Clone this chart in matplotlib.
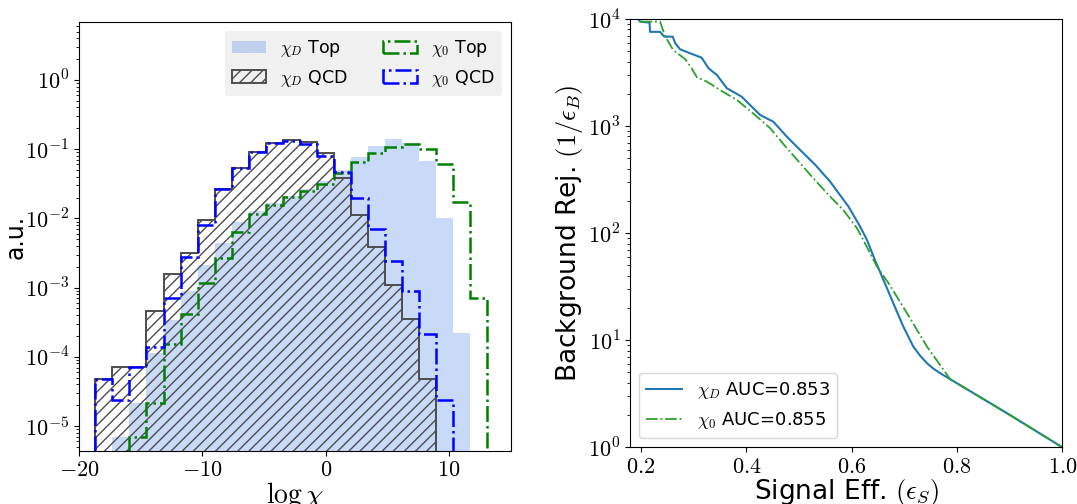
import numpy as np
import matplotlib
matplotlib.use("Agg")
import matplotlib.pyplot as plt
from matplotlib.ticker import FuncFormatter, FixedLocator

plt.rcParams['mathtext.fontset'] = 'cm'
plt.rcParams['font.family'] = ['DejaVu Sans']

# histogram binning (log chi)
edges = np.linspace(-18.68, 13.11, 24)

# bin contents (0 = empty bin)
top_chiD = [0, 7.0e-6, 2.13e-5, 1.12e-4, 3.40e-4, 9.0e-4, 2.12e-3, 4.46e-3, 8.96e-3, 0.0128,
            0.0167, 0.0211, 0.0266, 0.0347, 0.050, 0.0764, 0.1124, 0.1404, 0.1217, 0.0675,
            0.0102, 2.19e-4, 0]
qcd_chiD = [4.73e-5, 7.19e-5, 7.19e-5, 4.63e-4, 1.57e-3, 3.13e-3, 9.48e-3, 2.63e-2, 5.41e-2, 9.2e-2,
            0.1217, 0.1358, 0.1283, 0.0890, 0.0387, 0.0112, 3.90e-3, 1.09e-3, 3.52e-4, 4.73e-5,
            0, 0, 0]
top_chi0 = [0, 0, 7.0e-6, 2.13e-5, 1.53e-4, 4.15e-4, 1.18e-3, 2.65e-3, 6.43e-3, 0.0116,
            0.0156, 0.0206, 0.0249, 0.0317, 0.0449, 0.0647, 0.0872, 0.1087, 0.1177, 0.0997,
            0.0605, 0.0174, 7.0e-4]
qcd_chi0 = [4.73e-5, 2.38e-5, 7.19e-5, 1.40e-4, 7.0e-4, 2.74e-3, 8.03e-3, 2.63e-2, 5.41e-2, 9.2e-2,
            0.1217, 0.1327, 0.1177, 0.0805, 0.0464, 0.0199, 7.03e-3, 2.45e-3, 9.0e-4, 2.11e-4,
            2.38e-5, 0, 0]

# ROC curves (signal eff, log10 background rejection)
eff_D = [0.195, 0.198, 0.216, 0.217, 0.236, 0.244, 0.260, 0.265, 0.274, 0.293, 0.315, 0.328,
         0.344, 0.363, 0.391, 0.426, 0.451, 0.477, 0.502, 0.531, 0.559, 0.594, 0.616, 0.629,
         0.644, 0.663, 0.679, 0.698, 0.717, 0.730, 0.743, 0.755, 0.768, 0.787, 0.895, 1.0]
lrej_D = [4.0, 3.975, 3.966, 3.88, 3.88, 3.835, 3.835, 3.773, 3.717, 3.68, 3.639, 3.54,
          3.477, 3.353, 3.274, 3.104, 3.041, 2.90, 2.777, 2.637, 2.481, 2.247, 2.061, 1.936,
          1.75, 1.532, 1.345, 1.127, 0.94, 0.855, 0.785, 0.735, 0.692, 0.636, 0.318, 0.0]
eff_0 = [0.199, 0.236, 0.246, 0.261, 0.284, 0.296, 0.306, 0.325, 0.350, 0.382, 0.420, 0.445,
         0.477, 0.502, 0.527, 0.559, 0.584, 0.610, 0.622, 0.648, 0.670, 0.705, 0.743, 0.787,
         0.895, 1.0]
lrej_0 = [3.975, 3.975, 3.835, 3.71, 3.624, 3.54, 3.455, 3.415, 3.337, 3.244, 3.088, 2.98,
          2.793, 2.653, 2.513, 2.341, 2.217, 2.046, 1.936, 1.687, 1.532, 1.252, 0.94, 0.636,
          0.318, 0.0]
auc_D = 0.853
auc_0 = 0.855

logfmt = FuncFormatter(lambda v, p: '$10^{%d}$' % int(round(np.log10(v))))

fig = plt.figure(figsize=(10.77, 5.04), dpi=100)
ax1 = fig.add_axes([0.0734, 0.1058, 0.4008, 0.85])
ax2 = fig.add_axes([0.585, 0.1125, 0.4014, 0.8498])

centers = 0.5 * (edges[:-1] + edges[1:])
ax1.set_yscale('log', nonpositive='clip')
ax1.hist(centers, bins=edges, weights=top_chiD, histtype='stepfilled',
         color='cornflowerblue', alpha=0.35, label=r'$\chi_D$ Top')
ax1.hist(centers, bins=edges, weights=qcd_chiD, histtype='step', fill=False,
         hatch='///', edgecolor='0.3', linewidth=1.4, label=r'$\chi_D$ QCD')
ax1.hist(centers, bins=edges, weights=top_chi0, histtype='step', color='green',
         linestyle='-.', linewidth=1.8, label=r'$\chi_0$ Top')
ax1.hist(centers, bins=edges, weights=qcd_chi0, histtype='step', color='blue',
         linestyle='-.', linewidth=1.8, label=r'$\chi_0$ QCD')
ax1.set_xlim(-20, 15)
ax1.set_ylim(4.4e-6, 6.8)
ax1.yaxis.set_major_locator(FixedLocator([1e-5, 1e-4, 1e-3, 1e-2, 1e-1, 1e0]))
ax1.yaxis.set_major_formatter(logfmt)
ax1.xaxis.set_major_formatter(FuncFormatter(lambda v, p: '$%g$' % v))
ax1.set_xlabel(r'$\log\chi$', fontsize=20, labelpad=0)
ax1.set_ylabel('a.u.', fontsize=17)
ax1.yaxis.set_label_coords(-0.118, 0.5)
ax1.tick_params(labelsize=16)
ax1.legend(loc='upper right', ncol=2, fontsize=12.5, facecolor='0.94', edgecolor='none',
           framealpha=1, columnspacing=2.0)

ax2.plot(eff_D, 10 ** np.array(lrej_D), color='tab:blue', linewidth=1.5,
         label=r'$\chi_D$ AUC=%.3f' % auc_D)
ax2.plot(eff_0, 10 ** np.array(lrej_0), color='tab:green', linestyle='-.', linewidth=1.3,
         label=r'$\chi_0$ AUC=%.3f' % auc_0)
ax2.set_yscale('log')
ax2.set_xlim(0.179, 1.0)
ax2.set_ylim(1, 1e4)
ax2.set_xticks([0.2, 0.4, 0.6, 0.8, 1.0])
ax2.yaxis.set_major_formatter(logfmt)
ax2.xaxis.set_major_formatter(FuncFormatter(lambda v, p: '$%.1f$' % v))
ax2.set_xlabel(r'Signal Eff. $(\epsilon_S)$', fontsize=19, labelpad=0)
ax2.set_ylabel(r'Background Rej. $(1/\epsilon_B)$', fontsize=19, labelpad=2)
ax2.tick_params(labelsize=16)
ax2.legend(loc='lower left', fontsize=13)

plt.savefig('out.png', dpi=100)
